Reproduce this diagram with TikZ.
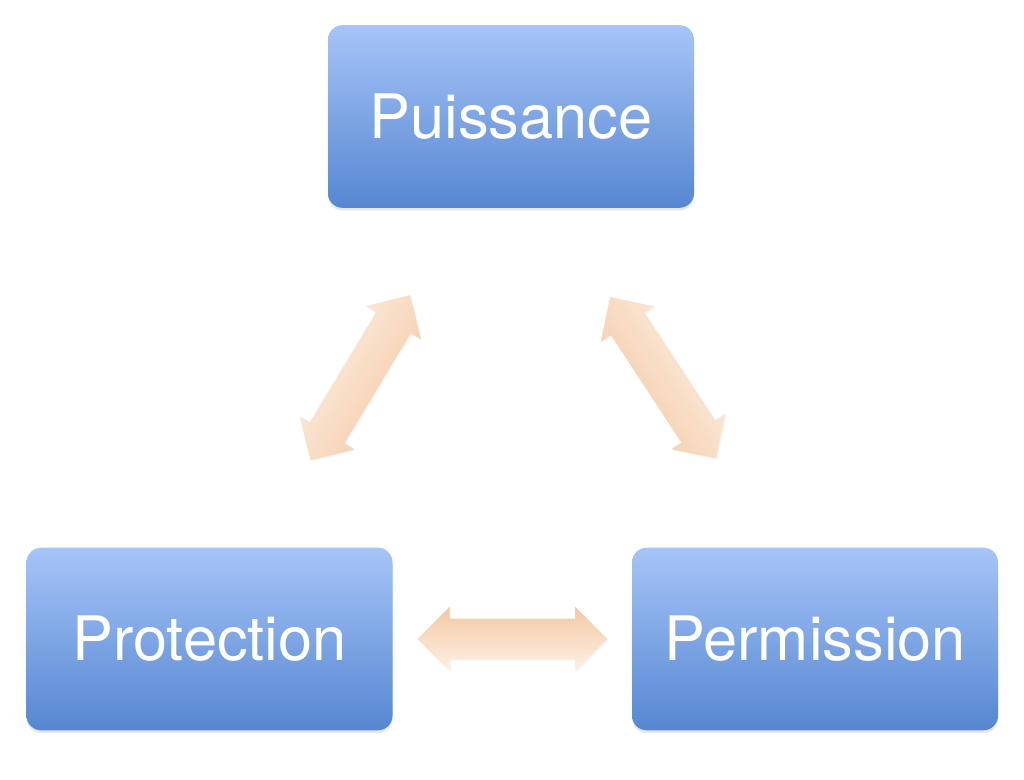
\documentclass[tikz,border=0pt]{standalone}
\usepackage{fontspec}
\setmainfont{TeX Gyre Heros}
\usepackage{tikz}
\usetikzlibrary{calc}
\usetikzlibrary{positioning}
\usetikzlibrary{shapes.arrows}
\usetikzlibrary{shadows}
\definecolor{boxtop}{RGB}{166,196,247}
\definecolor{boxbot}{RGB}{86,135,210}
\definecolor{arrdark}{RGB}{243,200,162}
\definecolor{arrlight}{RGB}{253,241,230}
\tikzset{block/.style={rectangle,rounded corners=11pt,minimum width=274.5pt,minimum height=137pt,top color=boxtop,bottom color=boxbot,text=white,font=\fontsize{46}{50}\selectfont,drop shadow={opacity=0.2,shadow xshift=0pt,shadow yshift=-2pt}}}
\tikzset{link/.style={double arrow,double arrow head extend=9pt,double arrow head indent=0pt,inner xsep=0pt,inner ysep=15pt,top color=arrdark,bottom color=arrlight,drop shadow={opacity=0.08,shadow xshift=1pt,shadow yshift=-1pt}}}

\begin{document}
\begin{tikzpicture}[x=0.75pt,y=-0.75pt,node distance=179.25pt]
\useasboundingbox (0,0) rectangle (1024,780);
\node[block] (puis) at (511,116.5) {Puissance};
\node[block] (prot) at (209.5,639) {Protection};
\node[block, right=of prot] (perm) {Permission};

 % double arrows between the boxes
 \node[link, minimum height=144.75pt, rotate=-121.1, shading angle=-121.1] (pp) at ($(puis.south west)!0.5!(prot.north east)$) {};
 \node[link, minimum height=144.75pt, rotate=-56.7, shading angle=123.3] (pq) at ($(puis.south east)!0.5!(perm.north west)$) {};
 \node[link, minimum height=142.5pt] (qq) at ($(prot.east)!0.5!(perm.west)$) {};
\end{tikzpicture}
\end{document}
